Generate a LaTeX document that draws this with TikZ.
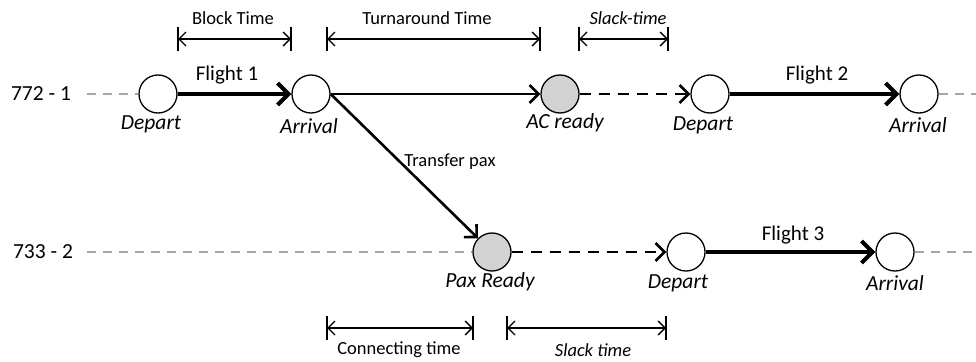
\documentclass[tikz,border=0pt]{standalone}
\usepackage{fontspec}
\setmainfont{Carlito}
\usetikzlibrary{arrows.meta}
\begin{document}
\begin{tikzpicture}[x=1pt,y=-1pt,
  event/.style={circle, draw, line width=1.3pt, minimum size=38pt, inner sep=0pt, fill=white},
  readyev/.style={event, fill=gray!35},
  evlabel/.style={font=\fontsize{21.5}{25}\selectfont\itshape, inner sep=0pt},
  rowlabel/.style={font=\fontsize{21.5}{25}\selectfont, inner sep=0pt},
  fltlabel/.style={font=\fontsize{21}{25}\selectfont, inner sep=0pt},
  dimlabel/.style={font=\fontsize{18.5}{22}\selectfont, inner sep=0pt},
  flight/.style={line width=4pt, -{Straight Barb[length=11pt,width=22pt]}},
  link/.style={line width=2.6pt, -{Straight Barb[length=9pt,width=18pt]}},
  slack/.style={line width=2.6pt, dash pattern=on 11pt off 8pt, -{Straight Barb[length=9pt,width=18pt]}},
  ghost/.style={line width=2pt, gray!70, dash pattern=on 9pt off 7pt},
  dimline/.style={line width=1.4pt, {Straight Barb[length=7pt,width=14pt]}-{Straight Barb[length=7pt,width=14pt]}},
  tickmark/.style={line width=1.4pt}
]
\useasboundingbox (0,0) rectangle (976,361);

% row labels and line ends
\node[rowlabel] (r1) at (41,94) {772 - 1};
\node[rowlabel] (r2) at (43,252) {733 - 2};
\coordinate (s1) at (87,94);
\coordinate (e1) at (976,94);
\coordinate (s2) at (87,252);
\coordinate (e2) at (976,252);

% events of the first rotation
\node[event]   (dep1) at (158,94) {};
\node[event]   (arr1) at (311,94) {};
\node[readyev] (acr)  at (560,94) {};
\node[event]   (dep2) at (710,94) {};
\node[event]   (arr2) at (919,94) {};

% events of the second rotation
\node[readyev] (pax)  at (492,252) {};
\node[event]   (dep3) at (686,252) {};
\node[event]   (arr3) at (895,252) {};

% connectors
\draw[ghost] (s1) -- (dep1);
\draw[ghost] (arr2) -- (e1);
\draw[ghost] (s2) -- (pax);
\draw[ghost] (arr3) -- (e2);
\draw[flight] (dep1) -- (arr1);
\draw[flight] (dep2) -- (arr2);
\draw[flight] (dep3) -- (arr3);
\draw[link] (arr1.east) -- (acr);
\draw[link] (arr1.east) -- (pax);
\draw[slack] (acr) -- (dep2);
\draw[slack] (pax) -- (dep3);

% event labels
\node[evlabel] (l1) at (151,124) {Depart};
\node[evlabel] (l2) at (309,126) {Arrival};
\node[evlabel] (l3) at (565,123) {AC ready};
\node[evlabel] (l4) at (703,125) {Depart};
\node[evlabel] (l5) at (918,125) {Arrival};
\node[evlabel] (l6) at (490,282) {Pax Ready};
\node[evlabel] (l7) at (678,283) {Depart};
\node[evlabel] (l8) at (895,283) {Arrival};

% flight labels
\node[fltlabel] (f1) at (227,75) {Flight 1};
\node[fltlabel] (f2) at (817,75) {Flight 2};
\node[fltlabel] (f3) at (793,235) {Flight 3};
\node[dimlabel] (tp) at (450,162) {Transfer pax};

% time spans
\coordinate (b1) at (178,39);  \coordinate (b2) at (291,39);
\coordinate (t1) at (327,39);  \coordinate (t2) at (540,39);
\coordinate (k1) at (579,39);  \coordinate (k2) at (668,39);
\coordinate (c1) at (327,328); \coordinate (c2) at (473,328);
\coordinate (m1) at (507,328); \coordinate (m2) at (666,328);
\foreach \a/\b in {b1/b2,t1/t2,k1/k2,c1/c2,m1/m2}{
  \draw[dimline] (\a) -- (\b);
  \draw[tickmark] (\a) ++(0,-12) -- ++(0,24);
  \draw[tickmark] (\b) ++(0,-12) -- ++(0,24);
}
\node[dimlabel] (bt) at (233,18) {Block Time};
\node[dimlabel] (tt) at (427,18) {Turnaround Time};
\node[dimlabel] (kt) at (628,18) {\itshape Slack-time};
\node[dimlabel] (ct) at (399,350) {Connecting time};
\node[dimlabel] (mt) at (593,350) {\itshape Slack time};
\end{tikzpicture}
\end{document}
